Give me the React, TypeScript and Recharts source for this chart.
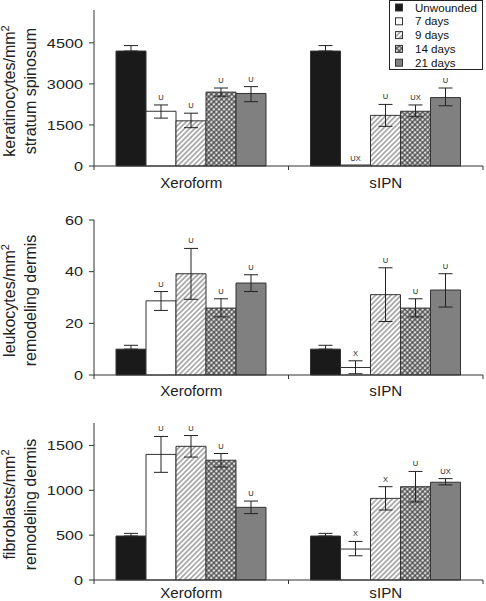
import React from 'react';
import { BarChart, Bar, XAxis, YAxis, ErrorBar, LabelList, Legend } from 'recharts';

const categories = ['Xeroform', 'sIPN'];
const seriesNames = ['Unwounded', '7 days', '9 days', '14 days', '21 days'];

// rows: series (Unwounded, 7, 9, 14, 21 days); cols: categories
const keratMean = [[4200, 4200], [2000, 0], [1650, 1850], [2700, 2000], [2650, 2500]];
const keratLow = [[4200, 4200], [1750, null], [1400, 1450], [2550, 1800], [2350, 2200]];
const keratHigh = [[4400, 4400], [2230, null], [1930, 2250], [2850, 2230], [2900, 2850]];
const keratSig = [['', ''], ['U', 'UX'], ['U', 'U'], ['U', 'UX'], ['U', 'U']];
const keratTicks = [0, 1500, 3000, 4500];

const leukoMean = [[10, 10], [28.7, 2.9], [39.2, 31.1], [25.9, 25.9], [35.6, 32.9]];
const leukoLow = [[10, 10], [25, 0.5], [29.3, 20.7], [22.5, 22.5], [32.3, 26.3]];
const leukoHigh = [[11.5, 11.5], [32.3, 5.5], [49, 41.5], [29.5, 29.5], [38.8, 39.2]];
const leukoSig = [['', ''], ['U', 'X'], ['U', 'U'], ['U', 'U'], ['U', 'U']];
const leukoTicks = [0, 20, 40, 60];

const fibroMean = [[490, 490], [1400, 345], [1490, 910], [1335, 1040], [810, 1090]];
const fibroLow = [[490, 490], [1200, 270], [1370, 780], [1260, 870], [740, 1060]];
const fibroHigh = [[520, 520], [1600, 430], [1610, 1040], [1410, 1210], [880, 1130]];
const fibroSig = [['', ''], ['U', 'X'], ['U', 'X'], ['U', 'U'], ['U', 'UX']];
const fibroTicks = [0, 500, 1000, 1500];

const FONT = '"Liberation Sans", Arial, Helvetica, sans-serif';
const fills = ['#1a1a1a', '#ffffff', 'url(#hatch9)', 'url(#dots14)', '#808080'];
const W = 486;
const Y_W = 94;
const RIGHT = 3;
const PLOT_W = W - Y_W - RIGHT;

const buildRows = (mean: any[], low: any[], high: any[]) =>
  categories.map((name, ci) => {
    const row: any = { name };
    seriesNames.forEach((_, si) => {
      const m = mean[si][ci];
      const l = low[si][ci];
      const h = high[si][ci];
      row[`v${si}`] = m;
      row[`e${si}`] = h == null ? null : [m - l, h - m];
    });
    return row;
  });

const YTick = (props: any) => {
  const { x, y, payload } = props;
  return (
    <text
      transform={`translate(${x},${y}) scale(1.25,1)`}
      textAnchor="end"
      dy="0.36em"
      fontSize={13}
      fill="#222"
      fontFamily={FONT}
    >
      {payload.value}
    </text>
  );
};

const makeXTick = (dy: number) => (props: any) => {
  const { x, y, payload, index } = props;
  const half = PLOT_W / categories.length / 2;
  return (
    <g>
      <line x1={x - half} y1={y} x2={x - half} y2={y + 4} stroke="#333" strokeWidth={1} />
      {index === categories.length - 1 && (
        <line x1={x + half} y1={y} x2={x + half} y2={y + 4} stroke="#333" strokeWidth={1} />
      )}
      <text
        transform={`translate(${x},${y + dy}) scale(1.08,1)`}
        textAnchor="middle"
        fontSize={14}
        fill="#222"
        fontFamily={FONT}
      >
        {payload.value}
      </text>
    </g>
  );
};

const makeYLabel = (l1: string, l2: string) => (props: any) => {
  const vb = props.viewBox || { y: 0, height: 0 };
  const cy = vb.y + vb.height / 2 + 3;
  return (
    <g fontFamily={FONT} fill="#222">
      <text transform={`translate(15,${cy}) rotate(-90)`} textAnchor="middle" fontSize={16}>
        {l1}
        <tspan dy={-6} fontSize={11}>2</tspan>
      </text>
      <text transform={`translate(36,${cy}) rotate(-90)`} textAnchor="middle" fontSize={16}>
        {l2}
      </text>
    </g>
  );
};

const makeSig = (mean: any[], high: any[], sig: string[][], si: number) => (props: any) => {
  const vb = props.viewBox || props;
  const idx = props.index;
  if (idx == null) return null;
  const text = sig[si][idx];
  if (!text) return null;
  const m = mean[si][idx];
  const h = high[si][idx];
  const hgt = Math.abs(vb.height || 0);
  const pxPer = m > 0 && hgt ? hgt / m : 0;
  const barTop = m > 0 ? vb.y : vb.y + (vb.height || 0);
  const top = barTop - (h != null ? (h - m) * pxPer : 0);
  return (
    <text
      x={vb.x + vb.width / 2}
      y={top - 5}
      textAnchor="middle"
      fontSize={7.5}
      fill="#222"
      fontFamily={FONT}
    >
      {text}
    </text>
  );
};

const LegendBox = () => (
  <svg width={94} height={70} style={{ display: 'block' }}>
    <rect x={0.5} y={0.5} width={93} height={69} fill="#fff" stroke="#222" strokeWidth={1} />
    {seriesNames.map((n, i) => {
      const cy = 7.5 + i * 13.8;
      return (
        <g key={n}>
          <rect x={6.5} y={cy - 3.5} width={7} height={7} fill={fills[i]} stroke="#333" strokeWidth={1} />
          <text x={26} y={cy} dy="0.36em" fontSize={11.6} fill="#111" fontFamily={FONT}>
            {n}
          </text>
        </g>
      );
    })}
  </svg>
);

type PanelProps = {
  mean: any[];
  low: any[];
  high: any[];
  sig: string[][];
  ticks: number[];
  max: number;
  height: number;
  top: number;
  xAxisH: number;
  labelDy: number;
  l1: string;
  l2: string;
  legend?: boolean;
};

const Panel = (p: PanelProps) => {
  const rows = buildRows(p.mean, p.low, p.high);
  return (
    <BarChart
      width={W}
      height={p.height}
      data={rows}
      margin={{ top: p.top, right: RIGHT, left: 0, bottom: 0 }}
      barCategoryGap={22}
      barGap={0}
    >
      <XAxis
        dataKey="name"
        height={p.xAxisH}
        tickSize={0}
        tickMargin={0}
        tickLine={false}
        axisLine={{ stroke: '#333', strokeWidth: 1 }}
        tick={makeXTick(p.labelDy)}
        interval={0}
      />
      <YAxis
        width={Y_W}
        domain={[0, p.max]}
        ticks={p.ticks}
        tickSize={5}
        tickMargin={6}
        tickLine={{ stroke: '#333', strokeWidth: 1 }}
        axisLine={{ stroke: '#333', strokeWidth: 1 }}
        tick={YTick}
        interval={0}
        label={makeYLabel(p.l1, p.l2)}
      />
      {seriesNames.map((n, si) => (
        <Bar
          key={n}
          dataKey={`v${si}`}
          name={n}
          fill={fills[si]}
          stroke="#333"
          strokeWidth={1}
          minPointSize={1}
          isAnimationActive={false}
        >
          <ErrorBar dataKey={`e${si}`} width={7} stroke="#222" strokeWidth={1} direction="y" />
          <LabelList dataKey={`v${si}`} content={makeSig(p.mean, p.high, p.sig, si)} />
        </Bar>
      ))}
      {p.legend && (
        <Legend
          content={LegendBox}
          layout="vertical"
          align="center"
          verticalAlign="middle"
          wrapperStyle={{ top: 0, left: 389, width: 94, height: 70 }}
        />
      )}
    </BarChart>
  );
};

export default function App() {
  return (
    <div
      style={{
        position: 'absolute',
        left: 0,
        top: 0,
        width: W,
        height: 601,
        background: '#fff',
        fontFamily: FONT,
      }}
    >
      <svg width={0} height={0} style={{ position: 'absolute' }}>
        <defs>
          <pattern id="hatch9" width="3.6" height="3.6" patternUnits="userSpaceOnUse" patternTransform="rotate(45)">
            <rect width="3.6" height="3.6" fill="#ffffff" />
            <line x1="1.8" y1="0" x2="1.8" y2="3.6" stroke="#9a9a9a" strokeWidth="1.5" />
          </pattern>
          <pattern id="dots14" width="3.6" height="3.6" patternUnits="userSpaceOnUse" patternTransform="rotate(45)">
            <rect width="3.6" height="3.6" fill="#555555" />
            <circle cx="1.8" cy="1.8" r="1.25" fill="#e2e2e2" />
          </pattern>
        </defs>
      </svg>
      <Panel
        mean={keratMean}
        low={keratLow}
        high={keratHigh}
        sig={keratSig}
        ticks={keratTicks}
        max={5700}
        height={200}
        top={10}
        xAxisH={34}
        labelDy={22}
        l1="keratinocytes/mm"
        l2="stratum spinosum"
        legend
      />
      <Panel
        mean={leukoMean}
        low={leukoLow}
        high={leukoHigh}
        sig={leukoSig}
        ticks={leukoTicks}
        max={60}
        height={200}
        top={20}
        xAxisH={25}
        labelDy={21}
        l1="leukocytes/mm"
        l2="remodeling dermis"
      />
      <Panel
        mean={fibroMean}
        low={fibroLow}
        high={fibroHigh}
        sig={fibroSig}
        ticks={fibroTicks}
        max={1750}
        height={201}
        top={23}
        xAxisH={21}
        labelDy={18}
        l1="fibroblasts/mm"
        l2="remodeling dermis"
      />
    </div>
  );
}
